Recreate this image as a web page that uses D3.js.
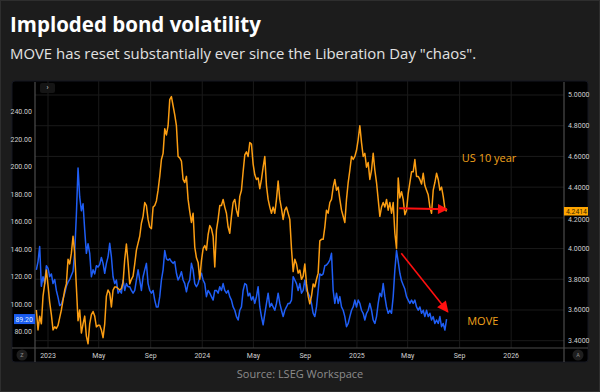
<!DOCTYPE html>
<html><head><meta charset="utf-8">
<script src="https://cdn.jsdelivr.net/npm/d3@7/dist/d3.min.js"></script>
<style>html,body{margin:0;padding:0;background:#1c1c1c;}svg{display:block;}</style>
</head><body>
<script>
// ---------- DATA ----------
const title = "Imploded bond volatility";
const subtitle = "MOVE has reset substantially ever since the Liberation Day \"chaos\".";
const source = "Source: LSEG Workspace";
// sampling grid of the series (read every ~3.95 days from the chart)
const seriesStart = "2022-12-04T10:00:00Z";
const seriesStepHours = 94.7;
// MOVE index (left axis)
const moveValues = [
125,131,142,113,120,115,128,126,120,122,115,118,110,105,99,100,104,108,113,116,118,121,124,138,165,199,178,168,173,154,137,144,137,120,125,122,128,127,129,134,
129.7,122.5,129.7,134.5,144.3,134.5,120,115,117.6,108,110,108,117.6,110,115,112.7,112.7,110,108,110,117.6,125,117.6,110,120,125,129.7,115,110,108,110,103,98,98,105.5,117.6,125,139,133,132,133,131,
129.7,131,122.5,117.6,120,123.6,117.6,115,109,115,117.6,129.7,125,115,112.7,115,120,122.5,117.6,115,105.5,110,108,105.5,103,110,110,108,112.7,110,115,110,108,110,105.5,103,98,95.6,91,88.5,95.6,98,
110,115,114,106,108,103,105.5,100.6,105.5,112.7,98,91,85,93,100.6,108,98,100.6,98,95.6,100.6,108,100.6,95.6,91,95.6,98,100.6,100.6,103,120,117.6,115,110,115,108,110,117.6,110,108,105.5,100.6,
93.4,91,98,110,122,121,122,128,128.5,130,132,137,110,100.6,108,100.6,105.5,98,95.6,91,83.6,86,91,95.6,98,103,98,103,100.6,95.6,93.4,88.5,93.4,95.6,100.6,95.6,88.5,86,91,100.6,108,105.5,
115,105.5,98,93.4,95.6,93.4,105.5,125,139,131,122.5,117,114,111,105.5,103,100.6,103,100.6,103,98,95.6,98,93.4,95.6,91,95.6,91,93.4,88.5,91,86,88.5,86,91,83.6,86,81.2,89.2
];
// US 10 year Treasury yield, % (right axis)
const us10yValues = [
3.60,3.47,3.56,3.51,3.69,3.77,3.86,3.76,3.65,3.57,3.47,3.49,3.48,3.50,3.55,3.60,3.665,3.73,3.77,3.93,3.90,3.97,4.08,3.97,3.75,3.53,3.60,3.45,3.51,3.56,3.43,3.38,3.51,3.57,3.59,3.56,3.49,3.50,3.50,3.47,
3.42,3.51,3.69,3.73,3.71,3.62,3.73,3.75,3.75,3.74,3.73,3.74,3.78,3.93,4.03,3.91,3.77,3.80,3.82,3.90,3.99,4.035,4.08,4.165,4.21,4.30,4.28,4.19,4.14,4.13,4.27,4.28,4.31,4.38,4.47,4.58,4.62,4.78,4.74,4.80,4.97,4.99,
4.93,4.87,4.80,4.60,4.59,4.57,4.45,4.43,4.47,4.32,4.24,4.17,4.23,4.01,3.94,3.91,3.80,3.92,4.00,4.02,3.99,4.09,4.15,4.13,4.08,3.88,4.12,4.19,4.28,4.28,4.32,4.27,4.23,4.14,4.10,4.21,4.30,4.32,4.25,4.21,4.34,4.38,
4.50,4.61,4.63,4.60,4.69,4.68,4.55,4.48,4.45,4.46,4.39,4.45,4.53,4.60,4.41,4.32,4.27,4.23,4.27,4.23,4.32,4.44,4.32,4.26,4.19,4.25,4.27,4.23,4.19,4.00,3.85,3.93,3.90,3.84,3.86,3.80,3.82,3.90,3.77,3.69,3.64,3.69,
3.77,3.75,3.80,3.84,4.05,4.06,4.06,4.14,4.25,4.23,4.30,4.32,4.40,4.45,4.38,4.40,4.32,4.25,4.21,4.17,4.32,4.43,4.51,4.60,4.58,4.60,4.64,4.71,4.80,4.69,4.60,4.62,4.53,4.56,4.45,4.51,4.62,4.51,4.43,4.32,4.21,4.27,
4.30,4.27,4.32,4.25,4.30,4.23,4.30,4.10,4.00,4.46,4.33,4.37,4.32,4.22,4.25,4.36,4.43,4.50,4.50,4.58,4.47,4.47,4.45,4.42,4.49,4.41,4.38,4.35,4.27,4.23,4.38,4.43,4.49,4.45,4.38,4.40,4.34,4.26,4.2414
];
const leftTicks = [80,100,120,140,160,180,200,220,240];
const rightTicks = [3.4,3.6,3.8,4.0,4.2,4.4,4.6,4.8,5.0];
const xDomain = ["2022-12-01T05:00:00Z", "2026-05-06T00:00:00Z"];
const moveLast = 89.20, us10yLast = 4.2414;
// annotations
const arrowUS = {from:["2025-04-11", 4.262], to:["2025-08-02", 4.256]};
const arrowMOVE = {from:["2025-04-16", 137], to:["2025-08-04", 94.5]};
const labelUS = {text:"US 10 year", date:"2025-09-06", value:4.59};
const labelMOVE = {text:"MOVE", date:"2025-09-19", value:87.8};

// ---------- CHART ----------
const W = 600, H = 392;
const P = {l:35, r:564, t:81, b:348};
const C = {blue:"#1f5ef5", orange:"#fb9d12", red:"#ff1010"};

const svg = d3.select("body").append("svg").attr("width", W).attr("height", H);
svg.append("rect").attr("x",0.5).attr("y",0.5).attr("width",W-1).attr("height",H-1)
  .attr("fill","#1c1c1c").attr("stroke","#2e2e2e");

svg.append("text").attr("x",10).attr("y",32).text(title)
  .attr("font-family","'Open Sans', sans-serif").attr("font-weight",700)
  .attr("font-size",20.5).attr("fill","#ffffff");
svg.append("text").attr("x",10).attr("y",59).text(subtitle)
  .attr("font-family","'Open Sans', sans-serif").attr("font-size",14.9).attr("fill","#e2e2e2");

// panel
svg.append("rect").attr("x",12).attr("y",81).attr("width",576).attr("height",281).attr("rx",3)
  .attr("fill","#000").attr("stroke","#141620");

const parse = s => new Date(s);
const x = d3.scaleUtc().domain(xDomain.map(parse)).range([P.l, P.r]);
const yL = d3.scaleLinear().domain([80,240]).range([331.7,111.7]);
const yR = d3.scaleLinear().domain([3.4,5.0]).range([340.7,95]);

const t0 = parse(seriesStart).getTime();
const dateAt = i => new Date(t0 + i*seriesStepHours*3600e3);
const move = moveValues.map((v,i)=>({d:dateAt(i), v}));
const us10 = us10yValues.map((v,i)=>({d:dateAt(i), v}));

// grid
const g = svg.append("g");
g.selectAll(".hg").data(rightTicks).join("line")
  .attr("x1",P.l).attr("x2",P.r).attr("y1",d=>yR(d)).attr("y2",d=>yR(d))
  .attr("stroke","#1a1a1a").attr("stroke-width",1);
const xTicks = x.ticks(d3.utcMonth.every(4)).filter(d => x(d) < P.r - 10);
g.selectAll(".vg").data(xTicks).join("line")
  .attr("x1",d=>x(d)).attr("x2",d=>x(d)).attr("y1",P.t).attr("y2",P.b)
  .attr("stroke","#1a1a1a").attr("stroke-width",1);

// axes lines
svg.append("line").attr("x1",P.l).attr("x2",P.l).attr("y1",82).attr("y2",362).attr("stroke","#5a5a5a");
svg.append("line").attr("x1",P.r).attr("x2",P.r).attr("y1",82).attr("y2",362).attr("stroke","#5a5a5a");
svg.append("line").attr("x1",12).attr("x2",588).attr("y1",P.b).attr("y2",P.b).attr("stroke","#4a4a4a");

// clip
svg.append("clipPath").attr("id","clip").append("rect")
  .attr("x",P.l).attr("y",P.t).attr("width",P.r-P.l).attr("height",P.b-P.t);

const lineL = d3.line().x(d=>x(d.d)).y(d=>yL(d.v));
const lineR = d3.line().x(d=>x(d.d)).y(d=>yR(d.v));
const plot = svg.append("g").attr("clip-path","url(#clip)");
plot.append("path").datum(move).attr("d",lineL).attr("fill","none")
  .attr("stroke",C.blue).attr("stroke-width",1.5).attr("stroke-linejoin","round");
plot.append("path").datum(us10).attr("d",lineR).attr("fill","none")
  .attr("stroke",C.orange).attr("stroke-width",1.5).attr("stroke-linejoin","round");

// left axis labels
const fontAx = "Roboto, 'DejaVu Sans', sans-serif";
svg.append("g").selectAll("text").data(leftTicks).join("text")
  .attr("x",32).attr("y",d=>yL(d)).attr("dy","0.35em").attr("text-anchor","end")
  .attr("font-family",fontAx).attr("font-size",7).attr("fill","#cfcfcf")
  .text(d=>d3.format(".2f")(d));
svg.append("g").selectAll("text").data(rightTicks).join("text")
  .attr("x",568).attr("y",d=>yR(d) + (d===4.2 ? 1.5 : 0)).attr("dy","0.35em").attr("text-anchor","start")
  .attr("font-family",fontAx).attr("font-size",7).attr("fill","#cfcfcf")
  .text(d=>d3.format(".4f")(d));

// last-value badges
svg.append("rect").attr("x",14).attr("y",yL(moveLast)-5).attr("width",21).attr("height",10).attr("fill","#1a5cf0");
svg.append("text").attr("x",33).attr("y",yL(moveLast)).attr("dy","0.35em").attr("text-anchor","end")
  .attr("font-family",fontAx).attr("font-size",7).attr("fill","#dde6ff").text(d3.format(".2f")(moveLast));
svg.append("rect").attr("x",564).attr("y",yR(us10yLast)-4.5).attr("width",24).attr("height",8.5).attr("fill","#ffa500");
svg.append("text").attr("x",566).attr("y",yR(us10yLast)-0.3).attr("dy","0.35em")
  .attr("font-family",fontAx).attr("font-size",6.8).attr("fill","#3a2a00").text(d3.format(".4f")(us10yLast));

// x axis labels
svg.append("g").selectAll("text").data(xTicks).join("text")
  .attr("x",d=>x(d)).attr("y",356).attr("dy","0.35em").attr("text-anchor","middle")
  .attr("font-family",fontAx).attr("font-size",7).attr("fill","#cfcfcf")
  .text(d=>d.getUTCMonth()===0 ? d3.utcFormat("%Y")(d) : d3.utcFormat("%b")(d));

// small UI buttons
[[22,"Z"],[578,"A"]].forEach(([cx,t])=>{
  svg.append("circle").attr("cx",cx).attr("cy",355).attr("r",5.5).attr("fill","#1e1e1e");
  svg.append("text").attr("x",cx).attr("y",355).attr("dy","0.35em").attr("text-anchor","middle")
    .attr("font-family",fontAx).attr("font-size",5.5).attr("fill","#8a8a8a").text(t);
});
svg.append("rect").attr("x",40).attr("y",83).attr("width",15).attr("height",10).attr("rx",2).attr("fill","#151515");
svg.append("text").attr("x",47.5).attr("y",88).attr("dy","0.35em").attr("text-anchor","middle")
  .attr("font-family",fontAx).attr("font-size",7).attr("fill","#ddd").text("›");

// annotations
const defs = svg.append("defs");
defs.append("marker").attr("id","ah1").attr("viewBox","0 0 10 10").attr("refX",9).attr("refY",5)
  .attr("markerWidth",7).attr("markerHeight",5).attr("markerUnits","strokeWidth").attr("orient","auto")
  .append("path").attr("d","M0,0L10,5L0,10z").attr("fill",C.red);
defs.append("marker").attr("id","ah2").attr("viewBox","0 0 10 10").attr("refX",9).attr("refY",5)
  .attr("markerWidth",9).attr("markerHeight",7).attr("markerUnits","strokeWidth").attr("orient","auto")
  .append("path").attr("d","M0,0L10,5L0,10z").attr("fill",C.red);
svg.append("line")
  .attr("x1",x(parse(arrowUS.from[0]))).attr("y1",yR(arrowUS.from[1]))
  .attr("x2",x(parse(arrowUS.to[0]))).attr("y2",yR(arrowUS.to[1]))
  .attr("stroke",C.red).attr("stroke-width",2).attr("marker-end","url(#ah1)");
svg.append("line")
  .attr("x1",x(parse(arrowMOVE.from[0]))).attr("y1",yL(arrowMOVE.from[1]))
  .attr("x2",x(parse(arrowMOVE.to[0]))).attr("y2",yL(arrowMOVE.to[1]))
  .attr("stroke",C.red).attr("stroke-width",1.6).attr("marker-end","url(#ah2)");

const fontAnn = "'Open Sans', sans-serif";
svg.append("text").attr("x",x(parse(labelUS.date))).attr("y",yR(labelUS.value)).attr("dy","0.35em")
  .attr("font-family",fontAnn).attr("font-size",11).attr("fill","#f2a31c").text(labelUS.text);
svg.append("text").attr("x",x(parse(labelMOVE.date))).attr("y",yL(labelMOVE.value)).attr("dy","0.35em")
  .attr("font-family",fontAnn).attr("font-size",11).attr("fill","#f2a31c").text(labelMOVE.text);

svg.append("text").attr("x",300).attr("y",374).attr("dy","0.35em").attr("text-anchor","middle")
  .attr("font-family",fontAnn).attr("font-size",11).attr("fill","#8c8c8c").text(source);
</script>
</body></html>
